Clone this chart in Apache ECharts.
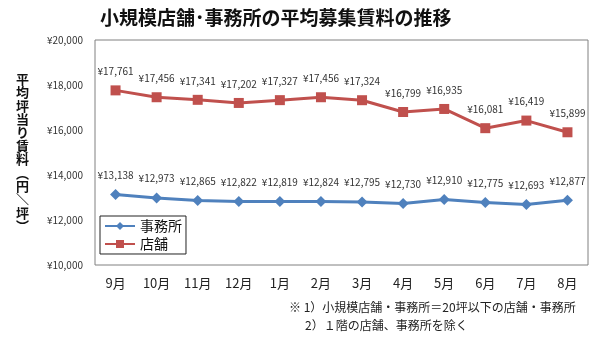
<!DOCTYPE html>
<html><head><meta charset="utf-8">
<script src="https://cdn.jsdelivr.net/npm/echarts@6/dist/echarts.min.js"></script>
<style>html,body{margin:0;padding:0;background:#fff}#c{width:600px;height:340px}</style>
</head><body><div id="c"></div>
<script>
const months = ['9月','10月','11月','12月','1月','2月','3月','4月','5月','6月','7月','8月'];
const office = [13138,12973,12865,12822,12819,12824,12795,12730,12910,12775,12693,12877];
const store = [17761,17456,17341,17202,17327,17456,17324,16799,16935,16081,16419,15899];
const yTicks = {min:10000, max:20000, interval:2000};
const FONT = '"Noto Sans CJK JP","Noto Sans",sans-serif';
const yen = v => '¥' + v.toLocaleString('en-US');
const yName = '平均坪当り賃料︵円＼坪︶'.split('').join('\n');
const chart = echarts.init(document.getElementById('c'));
chart.setOption({
  animation:false,
  textStyle:{fontFamily:FONT},
  title:{text:'小規模店舗･事務所の平均募集賃料の推移', left:95, top:3,
    textStyle:{fontSize:19, fontWeight:'bold', color:'#111', fontFamily:FONT}},
  grid:{left:95, right:12, top:40, bottom:75, show:true, borderColor:'#808080', borderWidth:1, backgroundColor:'#fff'},
  legend:{orient:'vertical', left:100, top:216, data:['事務所','店舗'],
    backgroundColor:'#fff', borderColor:'#222', borderWidth:1, padding:[3,4,3,4],
    itemWidth:30, itemHeight:10, itemGap:4,
    textStyle:{fontSize:14, color:'#111', fontFamily:FONT}},
  xAxis:{type:'category', data:months, boundaryGap:true,
    axisLine:{show:false}, axisTick:{show:false},
    axisLabel:{margin:12, fontSize:13, color:'#222', fontFamily:FONT}},
  yAxis:{type:'value', min:yTicks.min, max:yTicks.max, interval:yTicks.interval,
    splitLine:{show:false}, axisLine:{show:false}, axisTick:{show:false},
    axisLabel:{formatter:yen, margin:12, fontSize:10, color:'#333', fontFamily:FONT},
    name:yName, nameLocation:'middle', nameRotate:0, nameGap:66,
    nameTextStyle:{fontSize:13, fontWeight:'bold', color:'#111', lineHeight:13.4, fontFamily:FONT}},
  series:[
    {name:'事務所', type:'line', data:office, symbol:'diamond', symbolSize:11,
     itemStyle:{color:'#4F81BD'}, lineStyle:{width:3, color:'#4F81BD'},
     label:{show:true, position:'top', distance:9, formatter:p=>yen(p.value), fontSize:10, color:'#333', fontFamily:FONT}},
    {name:'店舗', type:'line', data:store, symbol:'rect', symbolSize:10,
     itemStyle:{color:'#C0504D'}, lineStyle:{width:3, color:'#C0504D'},
     label:{show:true, position:'top', distance:9, formatter:p=>yen(p.value), fontSize:10, color:'#333', fontFamily:FONT}}
  ],
  graphic:[
    {type:'text', left:289, top:301, style:{text:'※ 1）小規模店舗・事務所＝20坪以下の店舗・事務所', fontSize:12, fill:'#222', fontFamily:FONT}},
    {type:'text', left:305, top:319, style:{text:'2）１階の店舗、事務所を除く', fontSize:12, fill:'#222', fontFamily:FONT}}
  ]
});
</script></body></html>
